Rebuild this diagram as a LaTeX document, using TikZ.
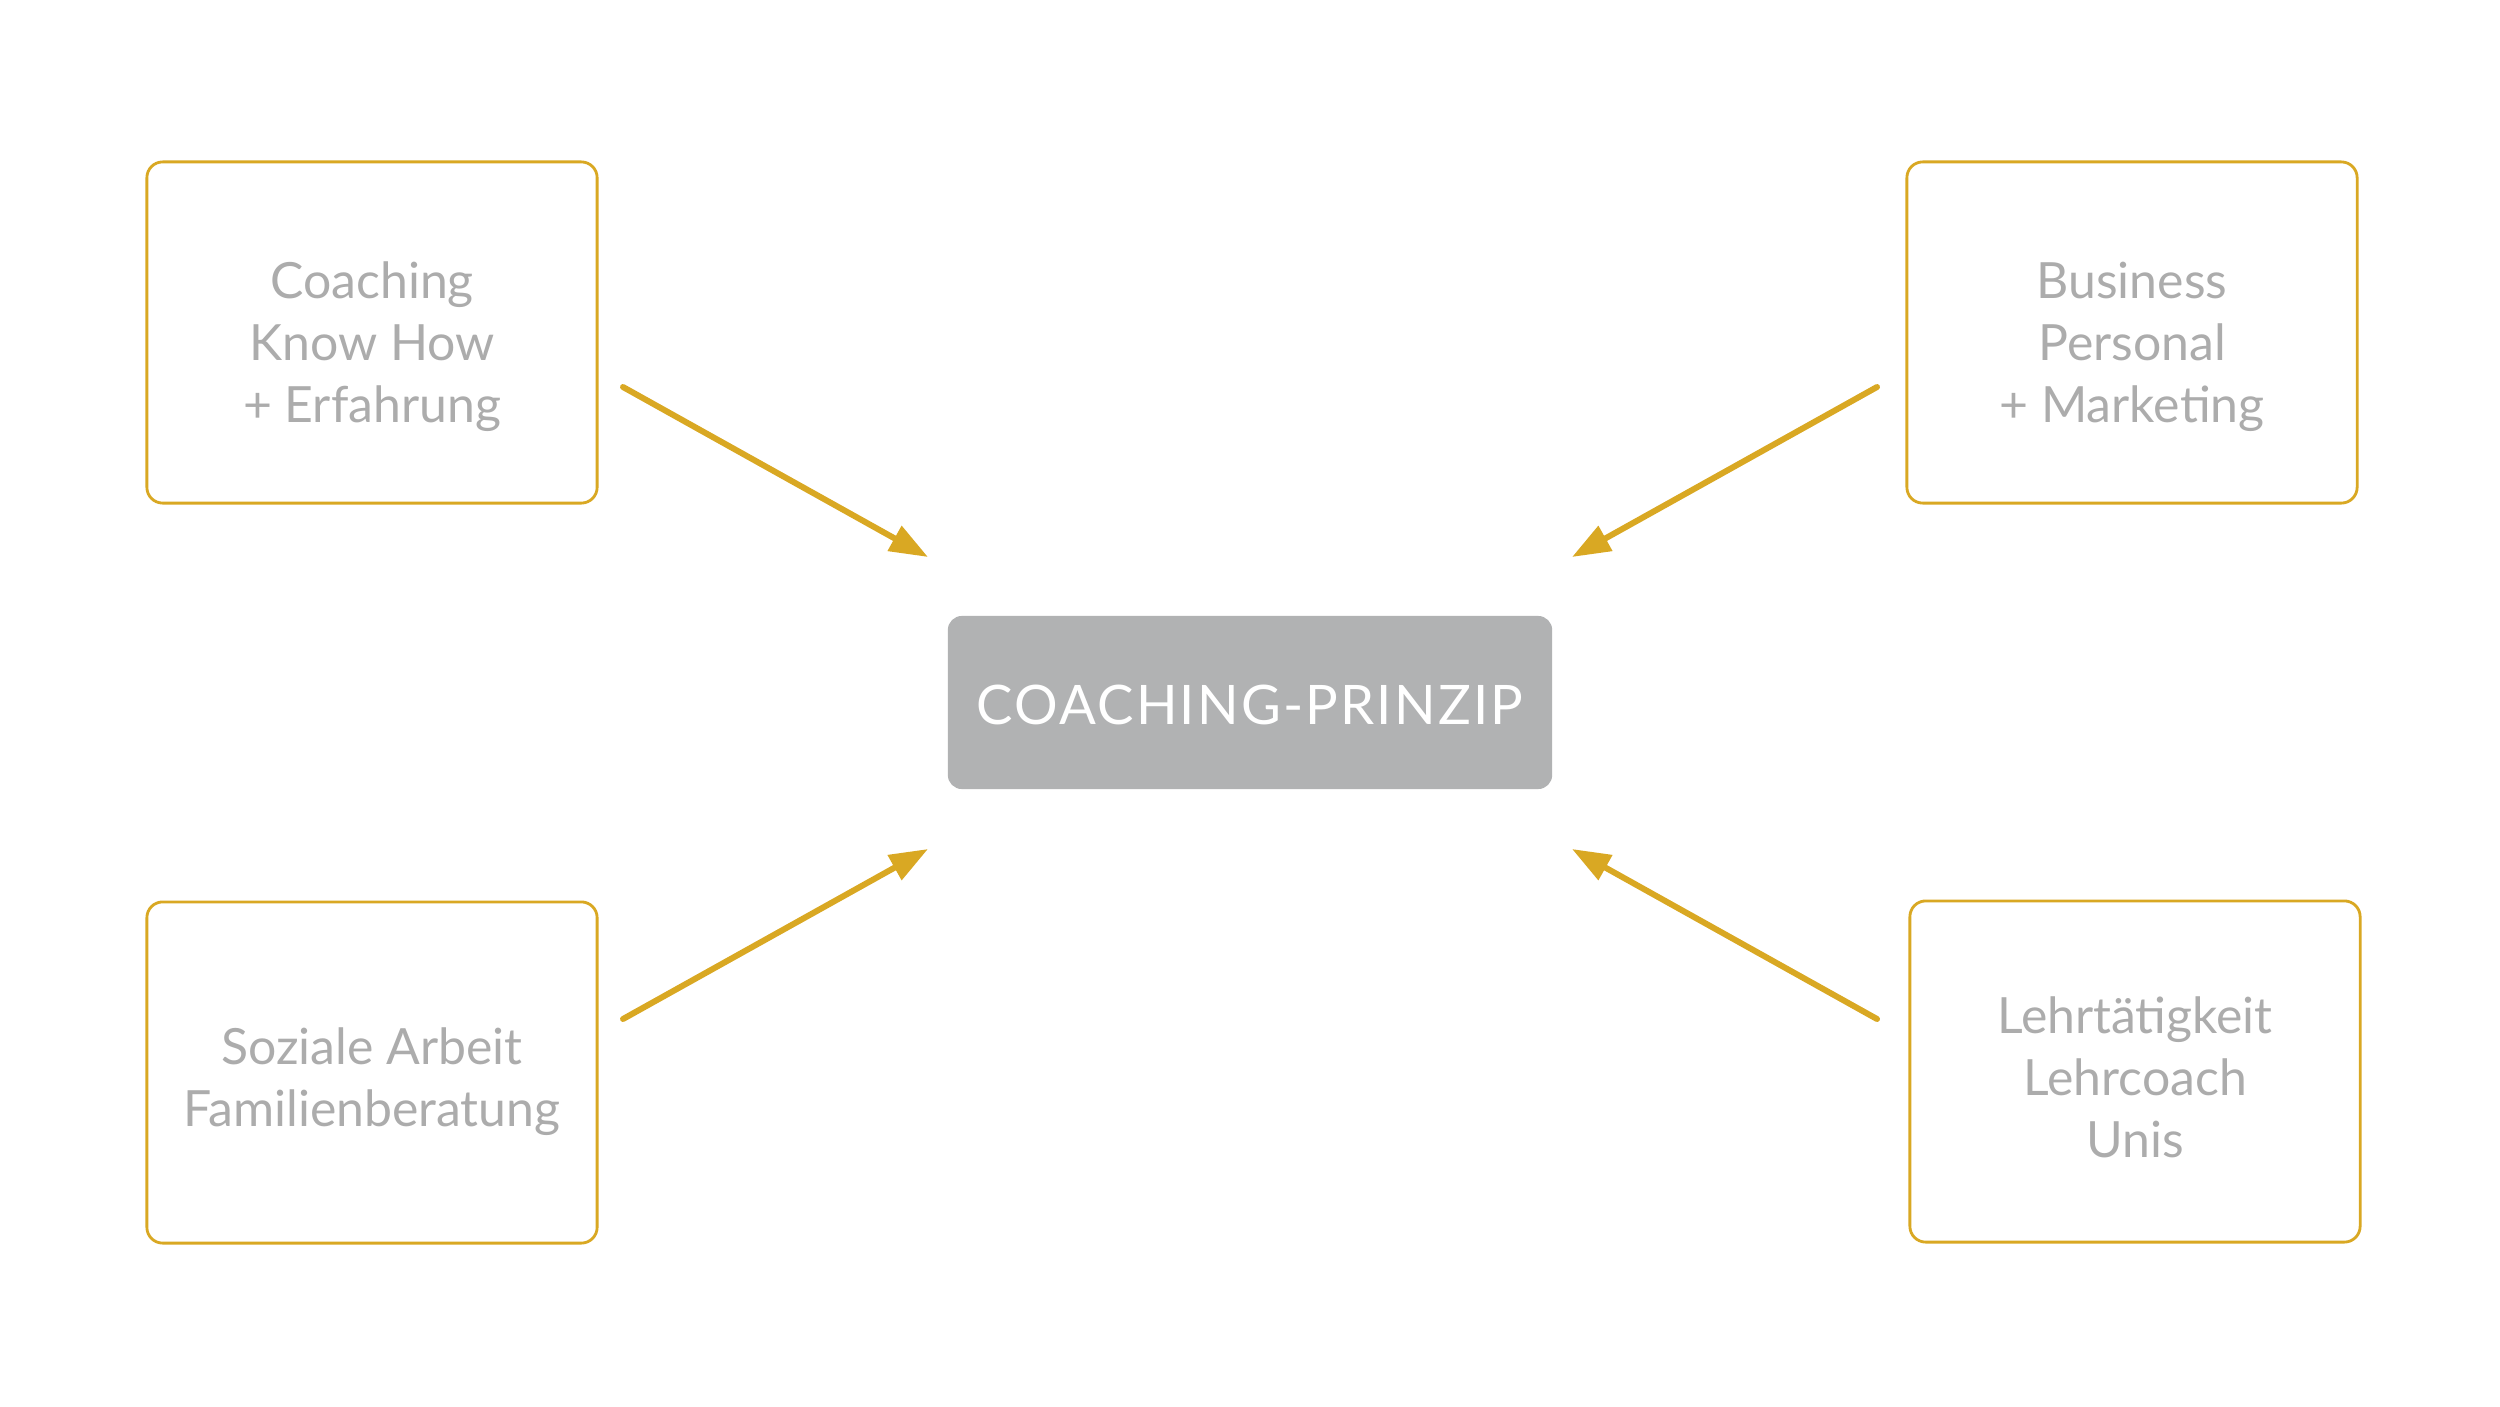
\documentclass[tikz,border=0pt]{standalone}
\usepackage{fontspec}
\setmainfont{Lato}
\usetikzlibrary{arrows.meta}
\definecolor{gold}{HTML}{D9A823}
\definecolor{txtgray}{HTML}{ACACAC}
\definecolor{boxgray}{HTML}{B1B2B3}
\tikzset{
  srcbox/.style={draw=gold, line width=0.8pt, rounded corners=4.5pt, fill=white,
    minimum width=4.5cm, minimum height=3.41cm, align=center,
    text=txtgray, font=\fontsize{14.2}{17.6}\selectfont, inner sep=0pt, text depth=0pt},
  centerbox/.style={fill=boxgray, rounded corners=4pt,
    minimum width=6.04cm, minimum height=1.73cm, align=center,
    text=white, font=\fontsize{15.5}{18}\selectfont\addfontfeature{LetterSpace=4}, inner sep=0pt},
  conn/.style={draw=gold, line width=1.7pt, line cap=round, -{Triangle[length=10.9pt,width=7.8pt]}}
}
\begin{document}
\begin{tikzpicture}[x=0.01cm, y=-0.01cm]
\useasboundingbox (0,0) rectangle (2500,1406);
\node[srcbox, text height=1.79cm] (tl) at (372,332.5) {Coaching\\Know How\\+ Erfahrung};
\node[srcbox, text height=1.79cm] (tr) at (2132,332.5) {Business\\Personal\\+ Marketing};
\node[srcbox, text height=1.07cm] (bl) at (372,1072.5) {Soziale Arbeit\\Familienberatung};
\node[srcbox, text height=1.71cm] (br) at (2135,1071.5) {Lehrtätigkeit\\Lehrcoach\\Unis};
\node[centerbox, text height=0.43cm, text depth=0pt] (c) at (1250,702.5) {COACHING-PRINZIP};
\coordinate (tls) at (623,387);  \coordinate (tle) at (928,557);
\coordinate (trs) at (1877,387); \coordinate (tre) at (1572,557);
\coordinate (bls) at (623,1019); \coordinate (ble) at (928,849);
\coordinate (brs) at (1877,1019); \coordinate (bre) at (1572,849);
\draw[conn] (tls) -- (tle);
\draw[conn] (trs) -- (tre);
\draw[conn] (bls) -- (ble);
\draw[conn] (brs) -- (bre);
\end{tikzpicture}
\end{document}
